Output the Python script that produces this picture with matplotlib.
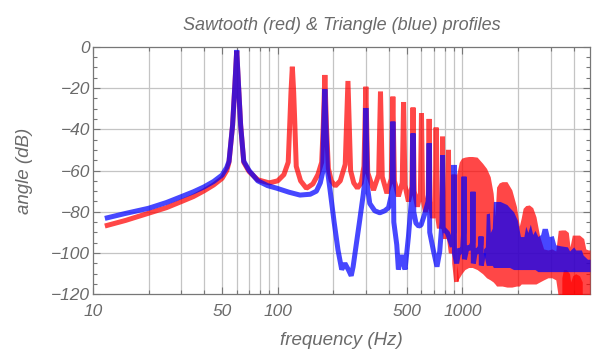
import matplotlib
matplotlib.use("Agg")
import matplotlib.pyplot as plt
from matplotlib.ticker import FixedLocator, NullFormatter, MultipleLocator

# sawtooth (red) - resolved part of the spectrum
red_freq = [11.6, 15, 20, 25, 30, 35, 40, 45, 50, 53, 54.5,
            57, 58.7, 60, 61.3, 63,
            65.5, 70, 78, 90, 100, 108, 114,
            116.5, 118, 120, 122, 123.5,
            126, 133, 143, 155, 165, 173,
            176.5, 180, 183.5,
            188, 195, 205, 218, 232,
            240,
            248, 258, 270, 283, 293,
            300,
            307, 330, 352,
            360,
            368, 390, 412,
            420,
            428, 450, 472,
            480,
            488, 510, 532,
            540,
            548, 570, 592,
            600,
            608, 630, 652,
            660,
            668, 690, 712,
            720,
            728, 750, 772,
            780,
            788, 810, 832,
            840,
            848, 870, 892, 900, 908, 930]
red_db = [-86.9, -84.2, -80.7, -78.0, -75.1, -72.6, -69.8, -67.0, -63.8, -60.0, -56.0,
          -38.0, -18.0, -2.0, -18.0, -38.0,
          -56.0, -60.5, -64.5, -66.0, -65.0, -62.0, -56.0,
          -35.0, -22.0, -9.7, -22.0, -35.0,
          -58.0, -65.0, -68.6, -66.5, -62.0, -56.0,
          -38.0, -13.7, -38.0,
          -59.0, -65.0, -67.5, -65.0, -57.0,
          -16.6,
          -60.0, -66.0, -68.5, -66.0, -58.0,
          -19.4,
          -61.0, -69.5, -62.0,
          -21.8,
          -63.0, -71.0, -64.0,
          -24.2,
          -65.0, -72.5, -66.0,
          -26.8,
          -67.0, -75.0, -68.0,
          -29.5,
          -70.0, -77.5, -71.0,
          -32.3,
          -72.0, -80.0, -74.0,
          -35.0,
          -75.0, -83.0, -77.0,
          -39.2,
          -80.0, -88.0, -82.0,
          -43.6,
          -85.0, -93.0, -88.0,
          -50.0,
          -92.0, -100.0, -97.0, -62.0, -105.0, -114.0]

# sawtooth (red) - dense part, upper and lower envelope
red_band_freq = [930, 960, 990, 1030, 1080, 1130, 1200, 1285, 1350, 1413, 1466, 1500,
                 1530, 1580, 1640, 1740, 1850, 1960, 2030, 2080, 2130, 2200, 2300, 2400,
                 2500, 2620, 2750, 2900, 3050, 3200, 3300, 3450, 3600, 3740, 3820, 3930,
                 4100, 4300, 4530, 4650, 4800, 4900]
red_band_hi = [-62, -56, -54, -53.5, -53.2, -53.2, -53.5, -56.5, -59, -63, -71, -82,
               -68, -66, -65.4, -65.4, -69.4, -77.5, -87, -83, -78.3, -77, -76.7, -78,
               -82.4, -92, -98, -98.5, -98, -99, -89, -88.8, -88.8, -90, -97, -91.3,
               -91.3, -91.3, -93, -98, -98.5, -98.5]
red_band_lo = [-114, -112, -110, -108, -107, -107, -108, -110, -112, -113, -114, -115,
               -116, -116, -116, -116.5, -116.5, -116, -116, -115, -115, -115, -115, -115,
               -115, -114, -113, -112, -112, -113, -121, -121, -121, -121, -121, -121,
               -121, -121, -121, -121, -121, -121]

# bright red strip at the bottom right
deep_freq = [3450, 3520, 3650, 3800, 3850, 3950, 4100, 4300, 4450]
deep_hi = [-112, -108, -108, -110, -114, -111, -110, -111, -114]
deep_lo = [-121, -121, -121, -121, -121, -121, -121, -121, -121]

# triangle (blue) - resolved part
blue_freq = [11.6, 15, 20, 25, 30, 35, 40, 45, 50, 53, 54.5,
             57, 58.7, 60, 61.3, 63,
             65.5, 70, 78, 88, 99, 115, 132, 150, 162, 170, 175,
             177, 180, 183,
             186, 192, 202, 212, 222, 231, 241, 250, 256, 267, 278, 290, 296,
             300,
             306, 315, 335, 357, 380, 398, 412, 417,
             420,
             425, 441, 450, 469, 489, 510, 530, 536,
             540,
             545, 560, 580, 597, 625, 652, 656,
             660,
             665, 698, 728, 753, 775,
             780,
             785, 830, 880, 896,
             900,
             905, 930, 960, 1000, 1015,
             1020,
             1025, 1060, 1100, 1135,
             1140,
             1145, 1180, 1220, 1255,
             1260,
             1265, 1300]
blue_db = [-83.2, -80.8, -78.3, -75.5, -72.7, -70.3, -67.9, -65.3, -62.2, -58.5, -55.5,
           -38.0, -18.0, -1.6, -18.0, -38.0,
           -55.5, -60.0, -65.0, -67.3, -68.6, -70.5, -71.9, -71.5, -70.0, -66.0, -61.0,
           -42.0, -20.6, -42.0,
           -60.0, -69.4, -85.0, -98.5, -108.0, -105.0, -108.0, -111.0, -106.6, -95.0, -84.0, -72.0, -65.0,
           -29.7,
           -68.0, -76.0, -79.5, -80.5, -79.5, -78.0, -72.0, -66.0,
           -36.3,
           -85.0, -96.0, -108.0, -101.0, -108.0, -92.0, -74.0, -68.0,
           -42.0,
           -80.0, -85.5, -87.0, -86.4, -81.0, -75.0, -70.0,
           -46.8,
           -90.0, -99.3, -106.6, -99.3, -85.0,
           -52.5,
           -88.0, -90.3, -96.9, -90.0,
           -57.3,
           -100.0, -105.0, -98.0, -100.0, -90.0,
           -63.0,
           -103.0, -97.0, -98.0, -95.0,
           -70.3,
           -105.0, -98.0, -100.0, -96.0,
           -92.0,
           -106.0, -100.0]

# triangle (blue) - dense part, upper and lower envelope
blue_band_freq = [1300, 1330, 1345, 1400, 1415, 1450, 1470, 1600, 1740, 1800, 1890, 1980,
                  2060, 2150, 2200, 2260, 2330, 2400, 2470, 2560, 2650, 2700, 2880, 2950,
                  3100, 3200, 3400, 3700, 3800, 4000, 4100, 4400, 4500, 4750, 4900]
blue_band_hi = [-98, -97, -81, -80.6, -90, -88, -75, -75, -76.5, -78, -80, -84,
                -92, -92, -87, -90, -86, -91, -89, -92, -91, -88, -88, -92,
                -91.5, -96, -96.5, -97, -99, -97, -98.5, -98.5, -101, -103, -103]
blue_band_lo = [-100, -104, -106, -106, -106, -106, -107, -107, -107, -107, -108, -108,
                -108, -108, -108, -108, -108, -108, -108, -109, -109, -109, -109, -109,
                -109, -109, -109, -109, -109, -109, -109, -109, -109, -109, -109]

xtick_vals = [10, 50, 100, 500, 1000]
xtick_labels = ["10", "50", "100", "500", "1000"]
xgrid_vals = [20, 30, 40, 50, 60, 70, 80, 90, 100, 200, 300, 400, 500, 600, 700, 800,
              900, 1000, 2000, 3000, 4000]

RED = (1.0, 0.0, 0.0)
BLUE = (0.0, 0.0, 1.0)
ALPHA = 0.72
TXT = "#6a6a6a"

plt.rcParams["font.family"] = ["Liberation Sans", "DejaVu Sans"]
plt.rcParams["font.style"] = "italic"

fig = plt.figure(figsize=(5.92, 3.54), dpi=100)
ax = fig.add_axes([0.157, 0.1686, 0.8396, 0.6994])

ax.plot(red_freq, red_db, color=RED, alpha=ALPHA, lw=3.6,
        solid_joinstyle="bevel", solid_capstyle="butt", zorder=3)
ax.fill_between(red_band_freq, red_band_lo, red_band_hi, color=RED, alpha=ALPHA,
                lw=0, zorder=3)
ax.fill_between(deep_freq, deep_lo, deep_hi, color=RED, alpha=ALPHA, lw=0, zorder=3)
ax.plot(blue_freq, blue_db, color=BLUE, alpha=ALPHA, lw=3.6,
        solid_joinstyle="bevel", solid_capstyle="butt", zorder=4)
ax.fill_between(blue_band_freq, blue_band_lo, blue_band_hi, color=BLUE, alpha=ALPHA,
                lw=0, zorder=4)

ax.set_xscale("log")
ax.set_xlim(10, 4900)
ax.set_ylim(-120, 0)

ax.xaxis.set_major_locator(FixedLocator(xtick_vals))
ax.set_xticklabels(xtick_labels)
ax.xaxis.set_minor_locator(FixedLocator(xgrid_vals))
ax.xaxis.set_minor_formatter(NullFormatter())
ax.yaxis.set_major_locator(MultipleLocator(20))
ax.yaxis.set_minor_locator(MultipleLocator(5))
ax.set_yticklabels([f"\u2212{-int(v)}" if v < 0 else f"{int(v)}" for v in ax.get_yticks()])

for v in xgrid_vals:
    ax.axvline(v, color="#c4c4c4", lw=0.9, zorder=1)
for v in range(-100, 0, 20):
    ax.axhline(v, color="#c4c4c4", lw=0.9, zorder=1)

ax.tick_params(which="both", direction="in", top=True, right=True, colors="#777777",
               labelcolor=TXT, labelsize=12.5)
ax.tick_params(which="major", length=5, width=0.8)
ax.tick_params(which="minor", length=3, width=0.8)
ax.tick_params(axis="x", which="both", pad=7)
ax.tick_params(axis="y", which="both", pad=2)
for s in ax.spines.values():
    s.set_color("#777777")
    s.set_linewidth(0.9)

ax.set_title("Sawtooth (red) & Triangle (blue) profiles", color=TXT, fontsize=13, pad=12)
ax.set_xlabel("frequency (Hz)", color=TXT, fontsize=13.5, labelpad=9)
ax.set_ylabel("angle (dB)", color=TXT, fontsize=13.5, labelpad=13)

fig.savefig("out.png", dpi=100)
